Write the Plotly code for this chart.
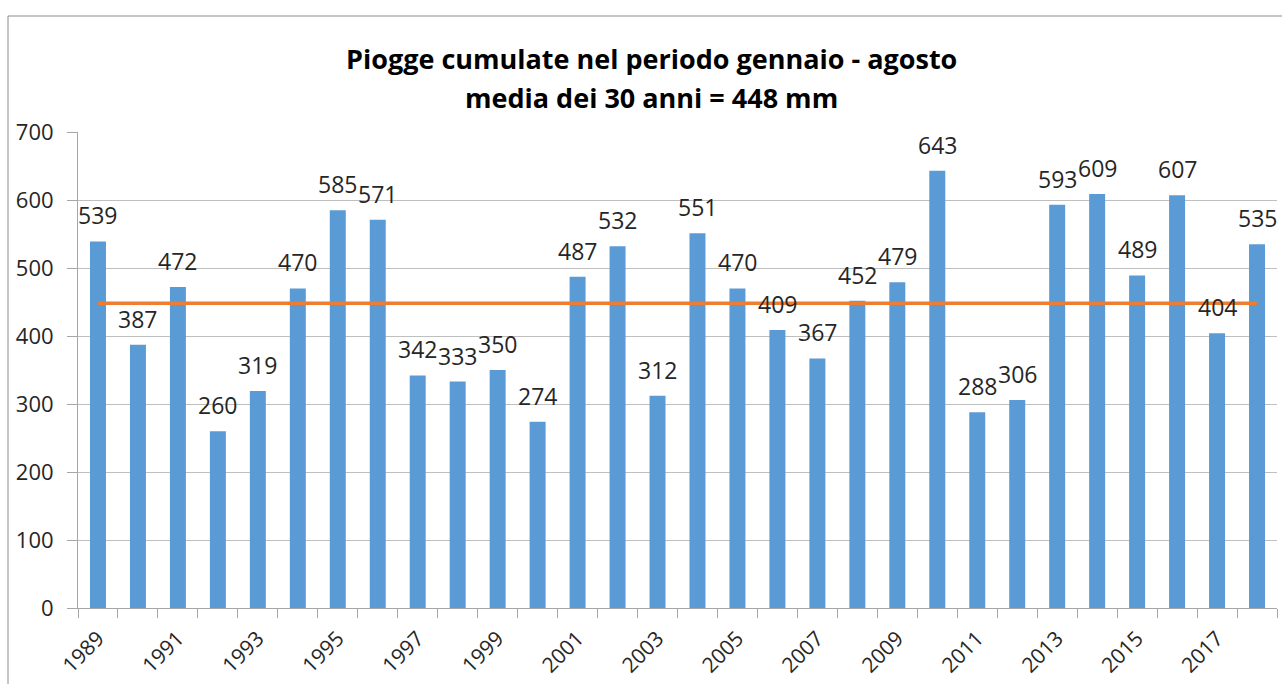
import plotly.graph_objects as go

years = list(range(1989, 2019))
rain_mm = [539, 387, 472, 260, 319, 470, 585, 571, 342, 333, 350, 274, 487, 532, 312,
           551, 470, 409, 367, 452, 479, 643, 288, 306, 593, 609, 489, 607, 404, 535]
mean_mm = 448
label_years = list(range(1989, 2019, 2))
title_lines = ["Piogge cumulate nel periodo gennaio - agosto", "media dei 30 anni = 448 mm"]

FONT = "Open Sans"
GRID = "#BFBFBF"
AXIS = "#A6A6A6"

L, R, T, B = 78, 5, 132, 76
PW, PH = 1282 - L - R, 684 - T - B

fig = go.Figure()
fig.add_trace(go.Bar(
    x=years, y=rain_mm, marker=dict(color="#5B9BD5", line=dict(width=0)),
    showlegend=False, hoverinfo="x+y",
))
fig.add_trace(go.Scatter(
    x=years, y=[mean_mm] * len(years), mode="lines",
    line=dict(color="#ED7D31", width=3.5), showlegend=False,
))
for yr, v in zip(years, rain_mm):
    fig.add_annotation(x=yr, y=v, text=str(v), showarrow=False, yshift=26,
                       xanchor="center", yanchor="middle",
                       font=dict(family=FONT, size=23, color="#262626"))

fig.update_layout(
    width=1282, height=684,
    margin=dict(l=L, r=R, t=T, b=B, autoexpand=False),
    paper_bgcolor="white", plot_bgcolor="white",
    bargap=0.6,
    font=dict(family=FONT, color="#262626"),
)
for line, ypix in zip(title_lines, [58, 97]):
    fig.add_annotation(text="<b>" + line + "</b>", xref="paper", yref="paper",
                       x=(651 - L) / PW, y=(684 - B - ypix) / PH,
                       xanchor="center", yanchor="middle", showarrow=False,
                       font=dict(family=FONT, size=27, color="#000000"))
fig.update_xaxes(
    range=[1988.5, 2018.5], tickvals=label_years, ticktext=[str(y) for y in label_years],
    tickangle=-45, ticks="", tickfont=dict(family=FONT, size=21, color="#262626"),
    showgrid=False, showline=True, linecolor=AXIS, linewidth=1, zeroline=False,
    automargin=False, ticklabelstandoff=9,
    minor=dict(ticks="outside", ticklen=9, tickcolor=AXIS, tick0=1988.5, dtick=1, showgrid=False),
)
fig.update_yaxes(
    range=[0, 700], dtick=100, ticks="outside", ticklen=10, tickcolor=AXIS,
    tickfont=dict(family=FONT, size=22, color="#262626"),
    showgrid=True, gridcolor=GRID, gridwidth=1, automargin=False,
    showline=True, linecolor=AXIS, linewidth=1, zeroline=False,
    ticklabelstandoff=9,
)
fig.add_shape(type="rect", xref="paper", yref="paper",
              x0=(8 - L) / PW, x1=1.05, y0=-0.3, y1=(684 - B - 16) / PH,
              line=dict(color="#8C8C8C", width=1), fillcolor="rgba(0,0,0,0)", layer="below")

fig.write_html("out.html", config={"displayModeBar": False},
               post_script="document.body.style.margin='0';document.body.style.overflow='hidden';")
